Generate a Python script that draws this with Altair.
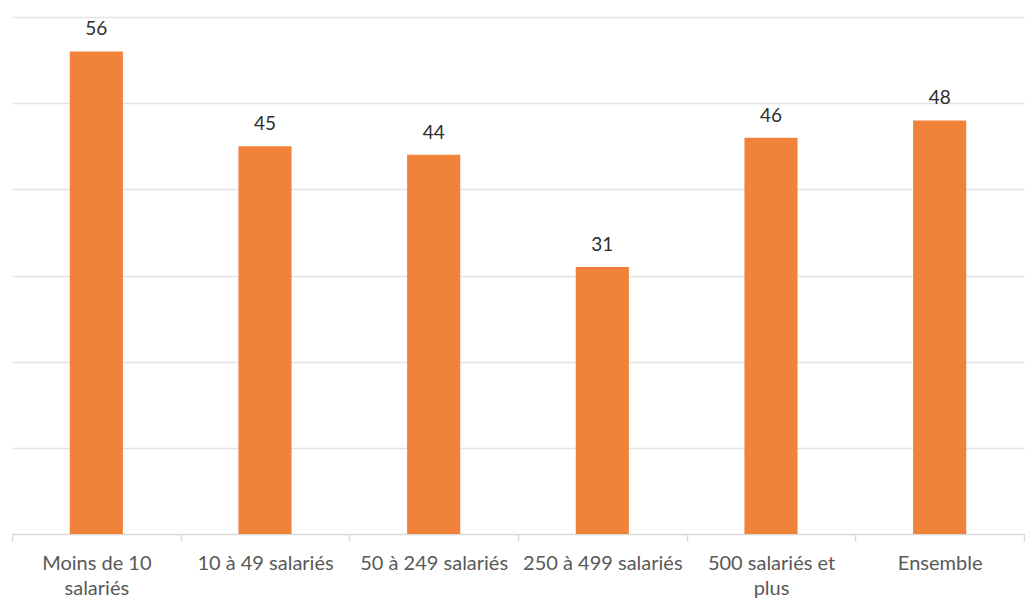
import altair as alt
import pandas as pd

categories = ["Moins de 10 salariés", "10 à 49 salariés", "50 à 249 salariés",
              "250 à 499 salariés", "500 salariés et plus", "Ensemble"]
values = [56, 45, 44, 31, 46, 48]

df = pd.DataFrame({"cat": categories, "val": values})

label_expr = ("datum.label == 'Moins de 10 salariés' ? ['Moins de 10', 'salariés'] : "
              "datum.label == '500 salariés et plus' ? ['500 salariés et', 'plus'] : datum.label")

FONT = "Lato"

x = alt.X("cat:N", sort=categories, title=None,
          scale=alt.Scale(paddingInner=0, paddingOuter=0),
          axis=alt.Axis(labelAngle=0, tickBand="extent", grid=False,
                        labelExpr=label_expr, labelFont=FONT, labelFontSize=20,
                        labelColor="#595959", labelPadding=12, labelLineHeight=25,
                        tickColor="#d9d9d9", tickSize=7, tickWidth=1.5,
                        domainColor="#d9d9d9", domainWidth=1.5, labelLimit=300))
y = alt.Y("val:Q", title=None,
          scale=alt.Scale(domain=[0, 60], nice=False),
          axis=alt.Axis(values=[10, 20, 30, 40, 50, 60], labels=False, ticks=False,
                        domain=False, gridColor="#e3e3e3", gridWidth=1.5))

bars = alt.Chart(df).mark_bar(color="#F0823A", width=alt.RelativeBandSize(0.315)).encode(x=x, y=y)
text = alt.Chart(df).mark_text(baseline="bottom", dy=-12, font=FONT, fontSize=19,
                               fontWeight="normal", color="#2e2e2e").encode(
    x=alt.X("cat:N", sort=categories), y="val:Q", text="val:Q")

chart = (bars + text).properties(
    width=1012, height=517,
    autosize=alt.AutoSizeParams(type="none"),
    padding={"left": 12, "top": 17, "right": 1, "bottom": 65},
).configure(background="white").configure_view(stroke=None)

chart.save("out.html", embed_options={"renderer": "svg", "actions": False})
